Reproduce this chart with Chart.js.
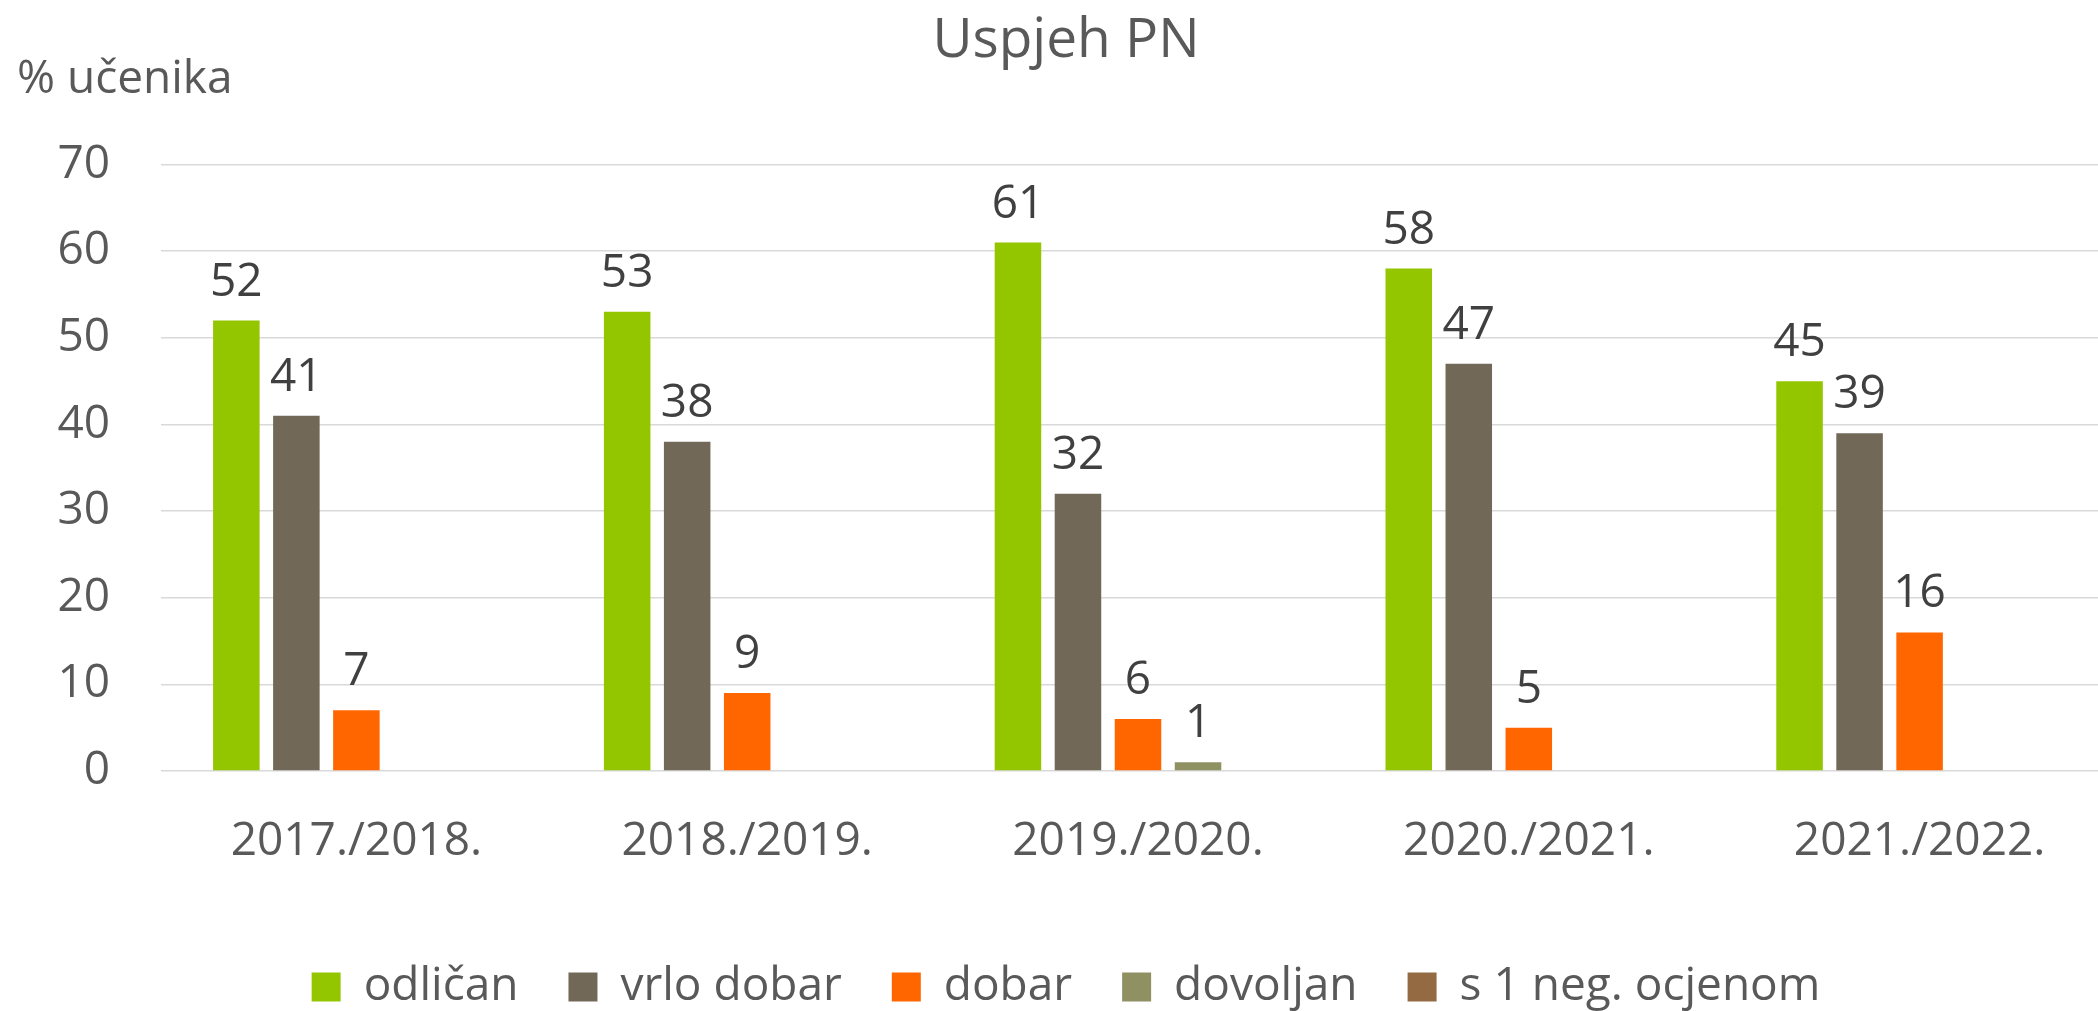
<!DOCTYPE html>
<html lang="hr">
<head>
<meta charset="utf-8">
<title>Uspjeh PN</title>
<script src="https://cdn.jsdelivr.net/npm/chart.js@4"></script>
<style>
  html, body { margin: 0; padding: 0; background: #fff; overflow: hidden; }
  canvas { display: block; }
</style>
</head>
<body>
<canvas id="grafikon" width="2120" height="1020"></canvas>
<script>
// podaci
const godine = ['2017./2018.', '2018./2019.', '2019./2020.', '2020./2021.', '2021./2022.'];
const odlican = [52, 53, 61, 58, 45];
const vrloDobar = [41, 38, 32, 47, 39];
const dobar = [7, 9, 6, 5, 16];
const dovoljan = [null, null, 1, null, null];
const negativna = [null, null, null, null, null];
const yTicks = [0, 10, 20, 30, 40, 50, 60, 70];

const font = "'Open Sans', 'Noto Sans', sans-serif";

// oznake vrijednosti iznad stupaca
const oznakePlugin = {
    id: 'oznake',
    afterDatasetsDraw(chart) {
        const ctx = chart.ctx;
        ctx.save();
        ctx.font = '46px ' + font;
        ctx.fillStyle = '#404040';
        ctx.textAlign = 'center';
        ctx.textBaseline = 'alphabetic';
        chart.data.datasets.forEach((ds, i) => {
            const meta = chart.getDatasetMeta(i);
            meta.data.forEach((bar, j) => {
                const v = ds.data[j];
                if (v === null || v === undefined) return;
                ctx.fillText(String(v), bar.x, bar.y - 25);
            });
        });
        ctx.restore();
    }
};

const ctx = document.getElementById('grafikon').getContext('2d');

new Chart(ctx, {
    type: 'bar',
    data: {
        labels: godine,
        datasets: [
            { label: 'odličan', data: odlican, backgroundColor: '#94C600' },
            { label: 'vrlo dobar', data: vrloDobar, backgroundColor: '#726858' },
            { label: 'dobar', data: dobar, backgroundColor: '#FF6600' },
            { label: 'dovoljan', data: dovoljan, backgroundColor: '#8F9162' },
            { label: 's 1 neg. ocjenom', data: negativna, backgroundColor: '#946A42' }
        ]
    },
    options: {
        responsive: false,
        animation: false,
        categoryPercentage: 0.768,
        barPercentage: 0.775,
        layout: { padding: { left: 17, right: 5, top: 0, bottom: 0 } },
        plugins: {
            title: {
                display: true,
                text: 'Uspjeh PN',
                color: '#595959',
                font: { family: font, size: 55, weight: 'normal', lineHeight: 0.8 },
                padding: { top: 19, bottom: 0 }
            },
            subtitle: {
                display: true,
                text: '% učenika',
                align: 'start',
                color: '#595959',
                font: { family: font, size: 46, weight: 'normal', lineHeight: 0.6 },
                padding: { top: 3, bottom: 71 }
            },
            legend: {
                position: 'bottom',
                labels: {
                    color: '#595959',
                    font: { family: font, size: 46 },
                    boxWidth: 29,
                    boxHeight: 29,
                    padding: 50
                }
            },
            tooltip: { enabled: false }
        },
        scales: {
            x: {
                grid: { display: false, drawTicks: false },
                border: { display: false },
                ticks: {
                    color: '#595959',
                    font: { family: font, size: 46 },
                    padding: 43,
                    maxRotation: 0
                },
                afterFit(scale) { scale.height = 143; }
            },
            y: {
                min: 0,
                max: 70,
                afterBuildTicks(scale) { scale.ticks = yTicks.map(v => ({ value: v })); },
                grid: { color: '#D9D9D9', lineWidth: 1.5, drawTicks: false },
                border: { display: false },
                ticks: {
                    color: '#595959',
                    font: { family: font, size: 46 },
                    padding: 51
                },
                afterFit(scale) { scale.width = 144; }
            }
        }
    },
    plugins: [oznakePlugin]
});
</script>
</body>
</html>
